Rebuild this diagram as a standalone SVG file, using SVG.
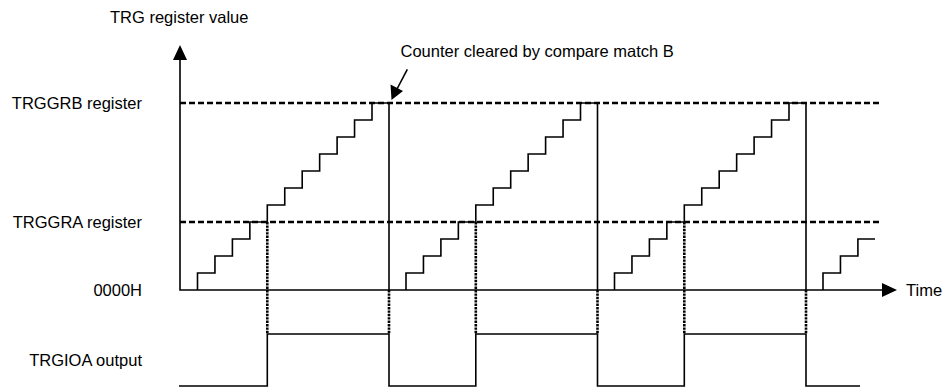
<svg xmlns="http://www.w3.org/2000/svg" xmlns:xlink="http://www.w3.org/1999/xlink" width="944" height="387" viewBox="0 0 944 387">
<style>
text{font-family:"Liberation Sans",Arial,sans-serif;font-size:16.5px;fill:#000}
.s{fill:none;stroke:#000;stroke-width:1.6}
.d{fill:none;stroke:#000;stroke-width:2.4;stroke-dasharray:6,3}
.o{fill:none;stroke:#000;stroke-width:2.6;stroke-dasharray:2.4,1}
.ah{fill:#000}
</style>
<defs>
<path id="stair" d="M0,290 V273 H17.45 V256 H34.9 V239 H52.35 V222 H69.8 V205 H87.25 V188 H104.7 V171 H122.15 V154 H139.6 V137 H157.05 V120 H174.5 V103 H191.5 V290"/>
</defs>
<rect width="944" height="387" fill="#fff"/>
<g id="labels">
<text x="110" y="22.5">TRG register value</text>
<text x="400.5" y="57">Counter cleared by compare match B</text>
<text x="142" y="108.5" text-anchor="end">TRGGRB register</text>
<text x="142" y="227.5" text-anchor="end">TRGGRA register</text>
<text x="142" y="296" text-anchor="end">0000H</text>
<text x="142" y="366" text-anchor="end">TRGIOA output</text>
<text x="906" y="296">Time</text>
</g>
<g id="levels">
<path class="d" d="M180,103 H880"/>
<path class="d" d="M180,222 H880"/>
</g>
<g id="axes">
<path class="s" d="M180,60 V290 H882"/>
<polygon class="ah" points="180,45 173,60 187,60"/>
<polygon class="ah" points="897,290 882,283 882,297"/>
</g>
<g id="counter">
<use xlink:href="#stair" href="#stair" class="s" x="197.5"/>
<use xlink:href="#stair" href="#stair" class="s" x="406"/>
<use xlink:href="#stair" href="#stair" class="s" x="614.5"/>
<path class="s" d="M823,290 V273 H840.45 V256 H857.9 V239 H875"/>
</g>
<g id="connectors">
<path class="o" d="M267.3,222 V334 M475.8,222 V334 M684.3,222 V334 M389,290 V334 M597.5,290 V334 M806,290 V334"/>
<path class="s" d="M407.3,69.3 L396.5,90"/>
<polygon class="ah" points="391.5,100 390.5,84.5 403,91"/>
</g>
<g id="output">
<path class="s" d="M179,386 H267.3 V334 H389 V386 H475.8 V334 H597.5 V386 H684.3 V334 H806 V386 H860"/>
</g>
</svg>
